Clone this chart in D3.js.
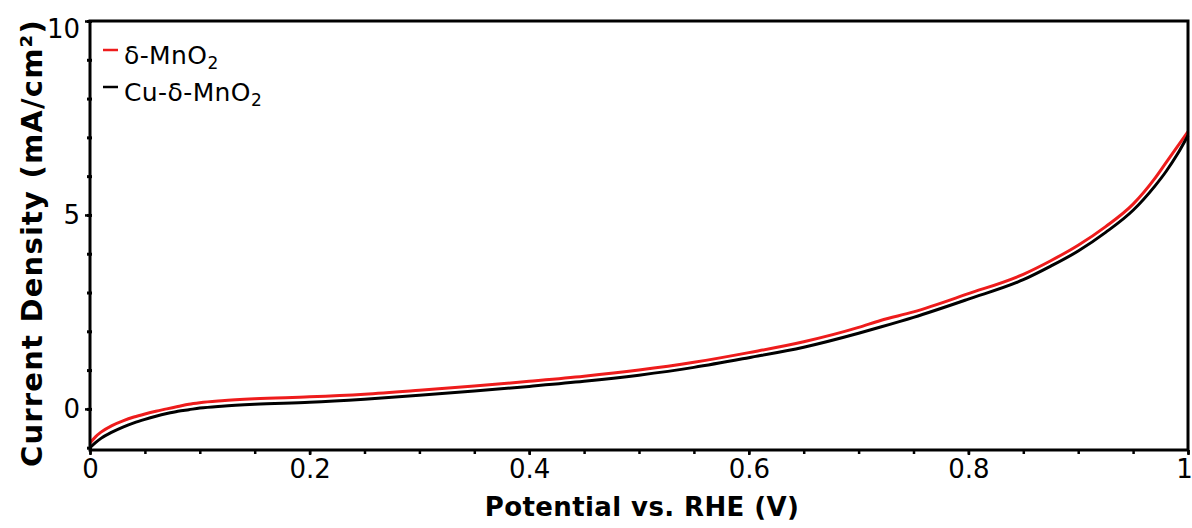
<!DOCTYPE html>
<html>
<head>
<meta charset="utf-8">
<script src="https://cdn.jsdelivr.net/npm/d3@7/dist/d3.min.js"></script>
<style>
  html, body { margin: 0; padding: 0; background: #fff; }
  svg { display: block; font-family: "DejaVu Sans", Verdana, sans-serif; }
</style>
</head>
<body>
<svg id="chart" width="1192" height="528"></svg>
<script>
// Linear sweep voltammetry, potential vs. RHE (V)
const potential = [0, 0.005, 0.01, 0.02, 0.03, 0.04, 0.05, 0.06, 0.07, 0.08, 0.09, 0.10,
  0.12, 0.15, 0.20, 0.25, 0.30, 0.35, 0.40, 0.45, 0.50, 0.55, 0.60, 0.65, 0.70, 0.72,
  0.75, 0.80, 0.85, 0.875, 0.90, 0.925, 0.95, 0.97, 0.98, 0.99, 1.0];

// Current density (mA/cm²)
const mno2 = [-0.88, -0.72, -0.60, -0.43, -0.31, -0.21, -0.13, -0.06, 0.00, 0.06, 0.12, 0.16,
  0.21, 0.26, 0.31, 0.38, 0.48, 0.59, 0.71, 0.84, 1.00, 1.20, 1.45, 1.73, 2.10, 2.28,
  2.50, 2.97, 3.47, 3.82, 4.22, 4.70, 5.28, 5.95, 6.35, 6.75, 7.15];
const cuMno2 = [-1.00, -0.87, -0.76, -0.60, -0.47, -0.36, -0.27, -0.19, -0.12, -0.06, -0.02, 0.02,
  0.07, 0.12, 0.17, 0.25, 0.35, 0.46, 0.58, 0.71, 0.87, 1.07, 1.32, 1.59, 1.95, 2.11,
  2.36, 2.83, 3.33, 3.68, 4.07, 4.55, 5.12, 5.75, 6.12, 6.55, 7.05];

const seriesNames = ["δ-MnO", "Cu-δ-MnO"];
const seriesColors = ["#ee1c1c", "#000000"];

const xTicks = [0, 0.2, 0.4, 0.6, 0.8, 1];
const xTickLabels = ["0", "0.2", "0.4", "0.6", "0.8", "1"];
const xMinorTicks = d3.range(0, 1.0001, 0.05);
const yTicks = [0, 5, 10];
const yMinorTicks = d3.range(-1, 10.001, 1);

const svg = d3.select("#chart");
const plotLeft = 90, plotRight = 1188, plotTop = 21, plotBottom = 450;

const x = d3.scaleLinear().domain([0, 1]).range([plotLeft, plotRight]);
const y = d3.scaleLinear().domain([-1.06, 10]).range([plotBottom, plotTop]);

// Curves
const series = [mno2, cuMno2];
const line = d3.line()
  .x((d, i) => x(potential[i]))
  .y(d => y(d))
  .curve(d3.curveMonotoneX);

svg.append("g").selectAll("path")
  .data(series)
  .join("path")
  .attr("d", d => line(d))
  .attr("fill", "none")
  .attr("stroke", (d, i) => seriesColors[i])
  .attr("stroke-width", 3)
  .attr("stroke-linejoin", "round");

// X axis: minor then major ticks
svg.append("g")
  .attr("transform", `translate(0,${plotBottom})`)
  .call(d3.axisBottom(x).tickValues(xMinorTicks).tickSize(4).tickFormat(""))
  .call(g => g.select(".domain").remove())
  .selectAll("line").attr("stroke-width", 2.5);

const xAxis = svg.append("g")
  .attr("transform", `translate(0,${plotBottom})`)
  .call(d3.axisBottom(x).tickValues(xTicks).tickSize(5).tickPadding(5)
    .tickFormat((d, i) => xTickLabels[i]));
xAxis.select(".domain").remove();
xAxis.selectAll("line").attr("stroke-width", 2.5);
xAxis.selectAll("text")
  .attr("font-size", 26)
  .attr("font-family", "DejaVu Sans, sans-serif")
  .attr("fill", "#000")
  .attr("dx", d => d === 1 ? -4 : 0);

// Y axis: minor then major ticks
svg.append("g")
  .attr("transform", `translate(${plotLeft},0)`)
  .call(d3.axisLeft(y).tickValues(yMinorTicks).tickSize(3).tickFormat(""))
  .call(g => g.select(".domain").remove())
  .selectAll("line").attr("stroke-width", 3).attr("x2", 2).attr("x1", -3);

const yAxis = svg.append("g")
  .attr("transform", `translate(${plotLeft},0)`)
  .call(d3.axisLeft(y).tickValues(yTicks).tickSize(5).tickPadding(5).tickFormat(d3.format("d")));
yAxis.select(".domain").remove();
yAxis.selectAll("line").attr("stroke-width", 2.5);
yAxis.selectAll("text")
  .attr("font-size", 26)
  .attr("font-family", "DejaVu Sans, sans-serif")
  .attr("fill", "#000")
  .attr("dy", d => d === 10 ? "0.62em" : "0.32em");

// Frame
svg.append("rect")
  .attr("x", plotLeft).attr("y", plotTop)
  .attr("width", plotRight - plotLeft).attr("height", plotBottom - plotTop)
  .attr("fill", "none")
  .attr("stroke", "#000")
  .attr("stroke-width", 3);

// Axis titles
svg.append("text")
  .attr("x", 642)
  .attr("y", 516)
  .attr("text-anchor", "middle")
  .attr("font-size", 26)
  .attr("letter-spacing", 0.4)
  .attr("font-weight", "bold")
  .attr("fill", "#000")
  .text("Potential vs. RHE (V)");

svg.append("text")
  .attr("transform", `translate(42,243) rotate(-90)`)
  .attr("text-anchor", "middle")
  .attr("font-size", 29)
  .attr("letter-spacing", 1.2)
  .attr("font-weight", "bold")
  .attr("fill", "#000")
  .text("Current Density (mA/cm²)");

// Legend
const legend = svg.append("g").selectAll("g")
  .data(seriesNames)
  .join("g")
  .attr("transform", (d, i) => `translate(103,${50 + i * 37})`);

legend.append("line")
  .attr("x1", 0).attr("x2", 15)
  .attr("y1", 0).attr("y2", 0)
  .attr("stroke", (d, i) => seriesColors[i])
  .attr("stroke-width", 2.5);

const legendText = legend.append("text")
  .attr("x", 21)
  .attr("y", 14)
  .attr("font-size", 25)
  .attr("letter-spacing", 0.4)
  .attr("fill", "#000");
legendText.append("tspan").text(d => d);
legendText.append("tspan")
  .attr("font-size", 17)
  .attr("dy", 5)
  .text("2");
</script>
</body>
</html>
